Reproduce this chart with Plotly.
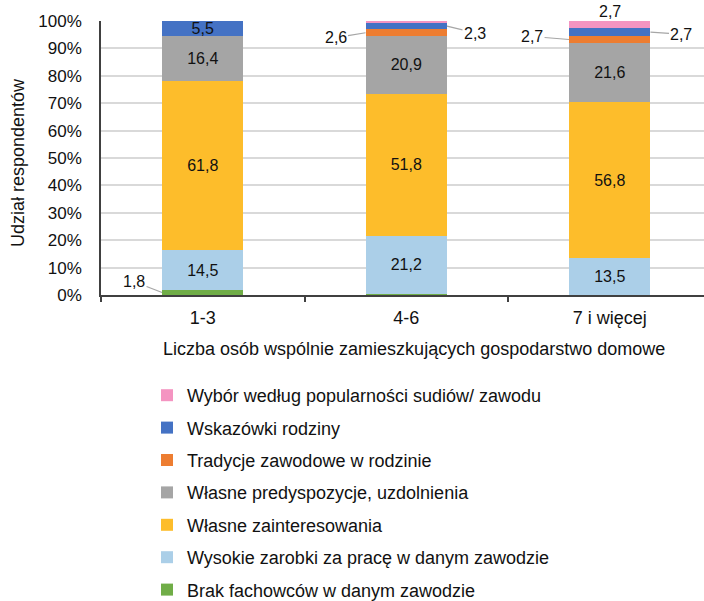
import plotly.graph_objects as go

categories = ["1-3", "4-6", "7 i więcej"]

series_names = [
    "Brak fachowców w danym zawodzie",
    "Wysokie zarobki za pracę w danym zawodzie",
    "Własne zainteresowania",
    "Własne predyspozycje, uzdolnienia",
    "Tradycje zawodowe w rodzinie",
    "Wskazówki rodziny",
    "Wybór według popularności sudiów/ zawodu",
]
brak = [1.8, 0.5, 0.0]
zarobki = [14.5, 21.2, 13.5]
zainteresowania = [61.8, 51.8, 56.8]
predyspozycje = [16.4, 20.9, 21.6]
tradycje = [0.0, 2.6, 2.7]
wskazowki = [5.5, 2.3, 2.7]
popularnosc = [0.0, 0.7, 2.7]
series_values = [brak, zarobki, zainteresowania, predyspozycje, tradycje, wskazowki, popularnosc]
colors = ["#70AD47", "#ABCFE8", "#FDBD2B", "#A5A5A5", "#ED7D31", "#4472C4", "#F494C1"]

y_ticks = list(range(0, 101, 10))
y_tick_labels = [f"{t}%" for t in y_ticks]

FONT = "Liberation Sans, Arial, sans-serif"
TXT = "#111111"
INSIDE_MIN = 5.0


def fmt(v):
    return f"{v:.1f}".replace(".", ",")


fig = go.Figure()
n = len(series_names)
for i, (name, vals, col) in enumerate(zip(series_names, series_values, colors)):
    texts = [fmt(v) if v >= INSIDE_MIN else "" for v in vals]
    fig.add_trace(go.Bar(
        x=categories, y=vals, name=name, marker=dict(color=col, line=dict(width=0)),
        width=0.4, text=texts, texttemplate="%{text}", textposition="inside",
        insidetextanchor="middle", textangle=0,
        textfont=dict(family=FONT, size=16, color=TXT),
        legendgroup=f"g{i}", legendrank=1000 + (n - i), hoverinfo="skip",
    ))

# small segments labelled outside with leader lines: (category index, series index, dx px, dy px)
outside = [(0, 0, -28, -11), (1, 4, -30, 5), (1, 5, 28, 7), (2, 4, -37, -3), (2, 5, 31, 2)]
for ci, si, ax, ay in outside:
    base = sum(series_values[k][ci] for k in range(si))
    v = series_values[si][ci]
    edge = -0.2 if ax < 0 else 0.2
    fig.add_annotation(
        x=ci + edge, y=base + v / 2, xref="x", yref="y",
        text=fmt(v), showarrow=True, arrowhead=0,
        arrowwidth=1.2, arrowcolor="#A6A6A6", ax=ax, ay=ay,
        font=dict(family=FONT, size=16, color=TXT),
    )
# top label for bar 3 pink segment
fig.add_annotation(x=2, y=100, xref="x", yref="y", text=fmt(popularnosc[2]),
                   showarrow=False, yanchor="bottom", yshift=-1,
                   font=dict(family=FONT, size=16, color=TXT))

fig.add_annotation(x=(414 - 101) / 603, y=-0.197, xref="paper", yref="paper",
                   xanchor="center", yanchor="middle",
                   text="Liczba osób wspólnie zamieszkujących gospodarstwo domowe",
                   showarrow=False, font=dict(family=FONT, size=18, color=TXT))
fig.add_annotation(x=(18 - 101) / 603, y=(295 - 162) / 274, xref="paper", yref="paper",
                   xanchor="center", yanchor="middle", textangle=-90,
                   text="Udział respondentów", showarrow=False,
                   font=dict(family=FONT, size=18, color=TXT))

fig.update_layout(
    width=704, height=601, barmode="stack",
    margin=dict(l=101, r=0, t=21, b=306, autoexpand=False),
    paper_bgcolor="white", plot_bgcolor="white",
    font=dict(family=FONT, size=17, color=TXT),
    separators=", ",
    uniformtext=dict(minsize=16, mode="show"),
    showlegend=True,
    legend=dict(
        traceorder="grouped", orientation="v", x=(147 - 101) / 603, xanchor="left",
        y=(295 - 377) / 274, yanchor="top", tracegroupgap=6,
        font=dict(family=FONT, size=18, color=TXT), bgcolor="rgba(0,0,0,0)",
        itemclick=False,
    ),
    xaxis=dict(
        type="category", range=[-0.5, 2.463], showgrid=False, showline=True,
        linecolor="#404040", linewidth=1.5, ticks="outside", tickson="boundaries",
        ticklen=5, tickcolor="#404040", tickwidth=1.5, ticklabelstandoff=6,
        tickfont=dict(family=FONT, size=18, color=TXT), automargin=False,
    ),
    yaxis=dict(
        range=[0, 100], tickvals=y_ticks, ticktext=y_tick_labels, showgrid=True,
        gridcolor="#D9D9D9", gridwidth=1.5, showline=True, linecolor="#404040",
        linewidth=1.5, ticks="", ticklabelstandoff=14, zeroline=False,
        tickfont=dict(family=FONT, size=17, color=TXT), automargin=False,
    ),
)

fig.write_html("out.html", config={"displayModeBar": False},
               post_script="document.body.style.margin='0';")
